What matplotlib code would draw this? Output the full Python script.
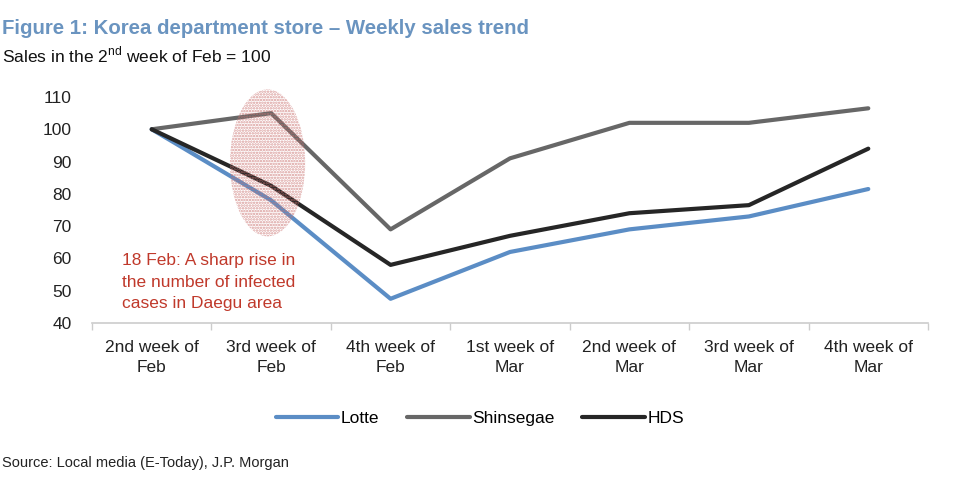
import matplotlib.pyplot as plt
import numpy as np
from matplotlib.patches import Ellipse

plt.rcParams["font.family"] = ["Liberation Sans", "DejaVu Sans"]
plt.rcParams["hatch.linewidth"] = 1.2

weeks = ["2nd week of\nFeb", "3rd week of\nFeb", "4th week of\nFeb", "1st week of\nMar",
         "2nd week of\nMar", "3rd week of\nMar", "4th week of\nMar"]
lotte = [100, 78, 47.5, 62, 69, 73, 81.5]
shinsegae = [100, 105, 69, 91, 102, 102, 106.5]
hds = [100, 82.5, 58, 67, 74, 76.5, 94]
yticks = [40, 50, 60, 70, 80, 90, 100, 110]

fig = plt.figure(figsize=(9.6, 4.92), dpi=100)
ax = fig.add_axes([92 / 960, 1 - 323 / 492, 836 / 960, (323 - 97) / 492])

x = np.arange(len(weeks))
ax.plot(x, lotte, color="#5b8dc5", lw=3, label="Lotte", solid_capstyle="round", zorder=3)
ax.plot(x, shinsegae, color="#676767", lw=3, label="Shinsegae", solid_capstyle="round", zorder=3)
ax.plot(x, hds, color="#262626", lw=3, label="HDS", solid_capstyle="round", zorder=3)

# dotted highlight around the 3rd week of Feb
ell = Ellipse((0.97, 89.6), 0.63, 45.5, facecolor="none", edgecolor="#c9706e",
              hatch="......", linewidth=0, alpha=0.7, zorder=4, clip_on=False)
ax.add_patch(ell)
ax.text(-0.25, 52.6, "18 Feb: A sharp rise in\nthe number of infected\ncases in Daegu area",
        color="#c0392b", fontsize=12.5, va="center", ha="left", linespacing=1.55)

ax.set_xlim(-0.5, 6.5)
ax.set_ylim(40, 110)
ax.set_yticks(yticks)
ax.set_xticks(x)
ax.set_xticklabels(weeks, linespacing=1.45)
ax.set_xticks(np.arange(-0.5, 7, 1), minor=True)
ax.tick_params(axis="x", which="major", length=0, pad=12, labelsize=12.5, colors="#222222")
ax.tick_params(axis="x", which="minor", length=5, color="#cccccc", width=1, direction="out")
ax.tick_params(axis="y", length=0, pad=14.5, labelsize=12.5, labelcolor="#222222")
for s in ["top", "right", "left"]:
    ax.spines[s].set_visible(False)
ax.spines["bottom"].set_color("#cccccc")
ax.spines["bottom"].set_linewidth(1.2)

fig.text(2 / 960, 1 - 28 / 492, "Figure 1: Korea department store \u2013 Weekly sales trend",
         color="#6a94c0", fontsize=14.7, fontweight="bold", va="center", ha="left")
fig.text(2 / 960, 1 - 55 / 492, "Sales in the 2$^{\\mathregular{nd}}$ week of Feb = 100",
         color="#111111", fontsize=12.5, va="center", ha="left")
fig.text(2 / 960, 1 - 463 / 492, "Source: Local media (E-Today), J.P. Morgan",
         color="#222222", fontsize=10.5, va="center", ha="left")

fig.legend(loc="center", bbox_to_anchor=(0.5, 1 - 418 / 492), ncol=3, frameon=False,
           fontsize=12.5, handlelength=3.6, handletextpad=0.15, columnspacing=1.6)

fig.savefig("out.png", dpi=100)
